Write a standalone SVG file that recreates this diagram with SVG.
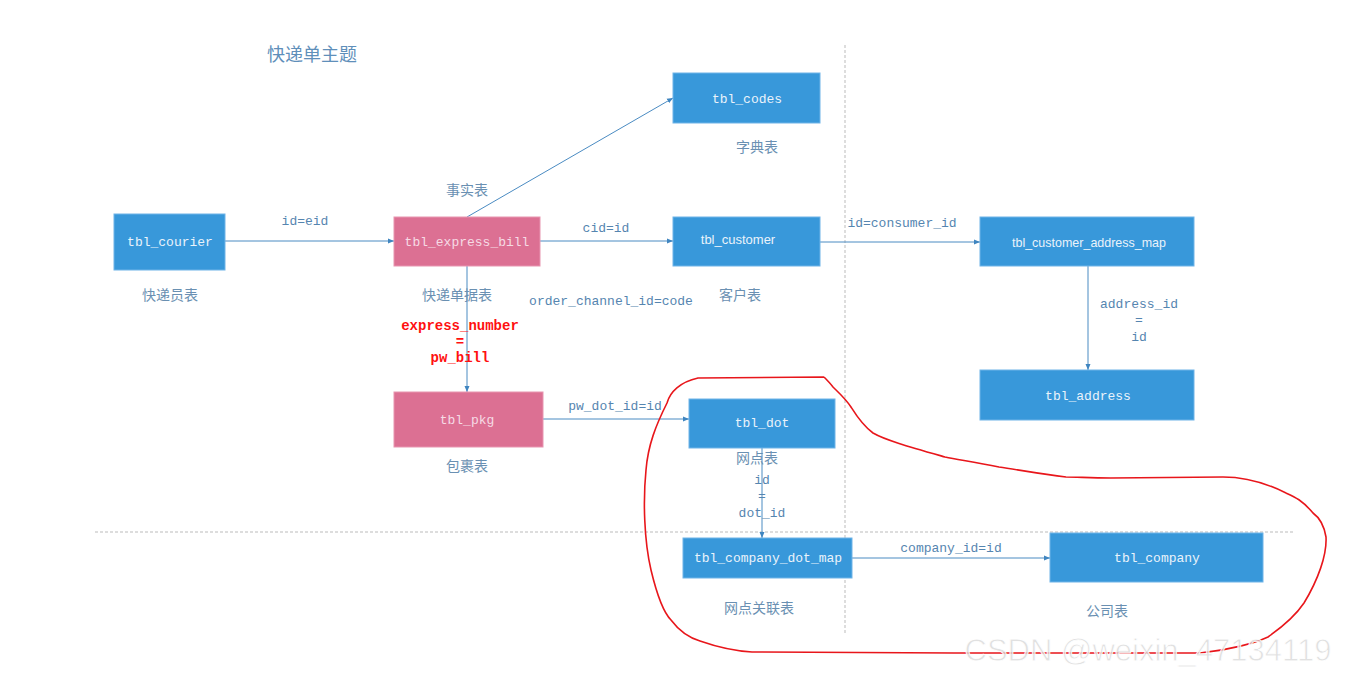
<svg xmlns="http://www.w3.org/2000/svg" width="1347" height="676" viewBox="0 0 1347 676">
<defs>
<marker id="arr" viewBox="0 0 6 6" refX="6" refY="3" markerWidth="6" markerHeight="6" orient="auto" markerUnits="userSpaceOnUse">
<path d="M0,0.5 L6,3 L0,5.5 z" fill="#3f85c0"/>
</marker>
<style>
.blue{fill:#3898da;stroke:#6fb4e8;stroke-width:1}
.pink{fill:#dc7093;stroke:#e895b0;stroke-width:1}
.bt{font-family:"Liberation Mono",monospace;font-size:13px;fill:#eaf3fb;text-anchor:middle}
.pt{font-family:"Liberation Mono",monospace;font-size:13px;fill:#f6dbe5;text-anchor:middle}
.bs{font-family:"Liberation Sans",Arial,sans-serif;font-size:13px;fill:#eaf3fb;text-anchor:middle}
.lbl{font-family:"Liberation Mono",monospace;font-size:13px;fill:#5585b0;text-anchor:middle}
.cn{font-family:"Noto Sans CJK SC",sans-serif;font-size:14px;fill:#6a90b2;text-anchor:middle}
.red{font-family:"Liberation Mono",monospace;font-size:14px;font-weight:bold;fill:#ff1010;text-anchor:middle}
.conn{stroke:#4a8bc2;stroke-width:1;fill:none}
.dash{stroke:#bbbbbb;stroke-width:1;stroke-dasharray:3,2;fill:none}
</style>
</defs>
<rect width="1347" height="676" fill="#ffffff"/>
<line class="dash" x1="845" y1="45" x2="845" y2="635"/>
<line class="dash" x1="95" y1="532" x2="1295" y2="532"/>
<text x="312" y="61" font-family="Noto Sans CJK SC,sans-serif" font-size="18" fill="#5f8fba" text-anchor="middle">快递单主题</text>
<g id="connectors">
<line class="conn" x1="225" y1="241" x2="394" y2="241" marker-end="url(#arr)"/>
<line class="conn" x1="467" y1="217" x2="673" y2="98" marker-end="url(#arr)"/>
<line class="conn" x1="540" y1="241" x2="673" y2="241" marker-end="url(#arr)"/>
<line class="conn" x1="820" y1="242" x2="980" y2="242" marker-end="url(#arr)"/>
<line class="conn" x1="1088" y1="266" x2="1088" y2="370" marker-end="url(#arr)"/>
<line class="conn" x1="467" y1="266" x2="467" y2="392" marker-end="url(#arr)"/>
<line class="conn" x1="543" y1="419" x2="689" y2="419" marker-end="url(#arr)"/>
<line class="conn" x1="762" y1="448" x2="762" y2="538" marker-end="url(#arr)"/>
<line class="conn" x1="852" y1="558" x2="1050" y2="558" marker-end="url(#arr)"/>
<text class="lbl" x="305" y="225">id=eid</text>
<text class="cn" x="467" y="195">事实表</text>
<text class="lbl" x="606" y="232">cid=id</text>
<text class="lbl" x="902" y="227">id=consumer_id</text>
<text class="lbl" x="1139" y="308">address_id</text>
<text class="lbl" x="1139" y="324">=</text>
<text class="lbl" x="1139" y="341">id</text>
<text class="red" x="460" y="330">express_number</text>
<text class="red" x="460" y="346">=</text>
<text class="red" x="460" y="362">pw_bill</text>
<text class="lbl" x="615" y="410">pw_dot_id=id</text>
<text class="lbl" x="762" y="484">id</text>
<text class="lbl" x="762" y="500">=</text>
<text class="lbl" x="762" y="517">dot_id</text>
<text class="lbl" x="951" y="552">company_id=id</text>
<text class="lbl" x="611" y="305">order_channel_id=code</text>
</g>
<g id="tbl_courier">
<rect class="blue" x="114" y="214" width="111" height="56"/>
<text class="bt" x="170" y="246">tbl_courier</text>
<text class="cn" x="170" y="300">快递员表</text>
</g>
<g id="tbl_express_bill">
<rect class="pink" x="394" y="217" width="146" height="49"/>
<text class="pt" x="467" y="246">tbl_express_bill</text>
<text class="cn" x="457" y="300">快递单据表</text>
</g>
<g id="tbl_codes">
<rect class="blue" x="673" y="73" width="147" height="50"/>
<text class="bt" x="747" y="103">tbl_codes</text>
<text class="cn" x="757" y="152">字典表</text>
</g>
<g id="tbl_customer">
<rect class="blue" x="673" y="217" width="147" height="49"/>
<text class="bs" x="738" y="244">tbl_customer</text>
<text class="cn" x="740" y="300">客户表</text>
</g>
<g id="tbl_customer_address_map">
<rect class="blue" x="980" y="217" width="214" height="49"/>
<text class="bs" x="1089" y="247" font-size="12.5" textLength="154" lengthAdjust="spacingAndGlyphs">tbl_customer_address_map</text>
</g>
<g id="tbl_address">
<rect class="blue" x="980" y="370" width="214" height="50"/>
<text class="bt" x="1088" y="400">tbl_address</text>
</g>
<g id="tbl_pkg">
<rect class="pink" x="394" y="392" width="149" height="55"/>
<text class="pt" x="467" y="424">tbl_pkg</text>
<text class="cn" x="467" y="471">包裹表</text>
</g>
<g id="tbl_dot">
<rect class="blue" x="689" y="399" width="146" height="49"/>
<text class="bt" x="762" y="427">tbl_dot</text>
<text class="cn" x="757" y="463">网点表</text>
</g>
<g id="tbl_company_dot_map">
<rect class="blue" x="683" y="538" width="169" height="40"/>
<text class="bt" x="768" y="562">tbl_company_dot_map</text>
<text class="cn" x="759" y="613">网点关联表</text>
</g>
<g id="tbl_company">
<rect class="blue" x="1050" y="533" width="213" height="49"/>
<text class="bt" x="1157" y="562">tbl_company</text>
<text class="cn" x="1107" y="616">公司表</text>
</g>
<path d="M824,377 L698,378 C680,382 670,392 667,403 C656,425 648,445 646,470 C643,500 644,540 651,570 C657,595 663,612 671,620 C680,632 690,638 700,641 C720,648 735,651 752,652 L954,653 L1200,653 C1230,650 1255,643 1268,637 C1285,625 1298,612 1304,603 C1318,580 1327,555 1326,537 C1324,525 1320,518 1313,513 C1302,500 1295,497 1286,493 C1260,480 1240,477 1223,477 L1111,478 C1090,478 1078,477 1066,477 C1040,474 1020,470 999,467 C975,462 960,460 945,457 C910,447 885,440 873,433 C862,425 856,415 851,407 C845,398 838,392 833,387 C830,383 827,380 824,377" fill="none" stroke="#e8161b" stroke-width="1.6"/>
<text x="1148" y="661" font-family="Liberation Sans,Arial,sans-serif" font-size="31" fill="#d8d8d8" fill-opacity="0.75" stroke="#ffffff" stroke-width="0.8" text-anchor="middle">CSDN @weixin_47134119</text>
</svg>
